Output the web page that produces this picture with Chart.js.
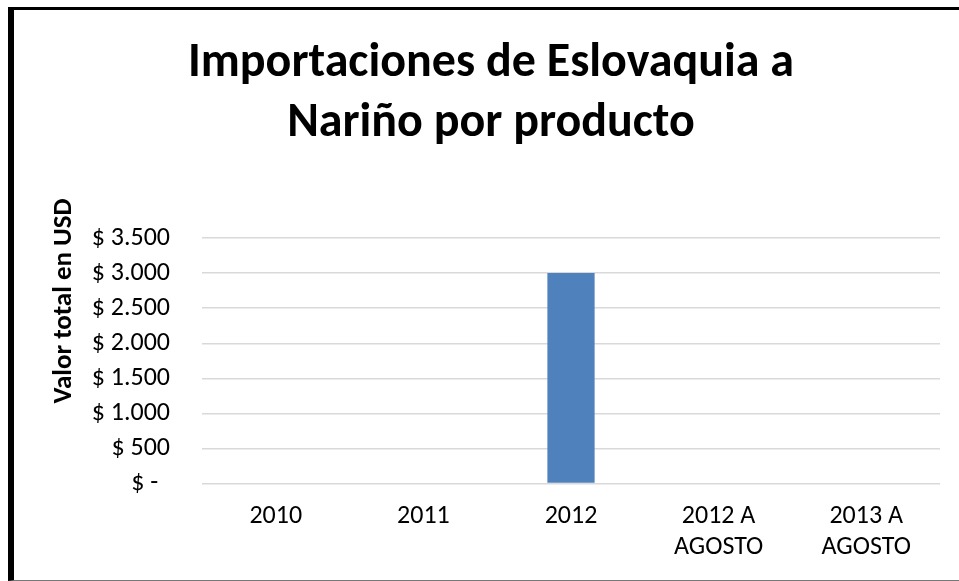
<!DOCTYPE html>
<html>
<head>
<meta charset="utf-8">
<script src="https://cdn.jsdelivr.net/npm/chart.js@4"></script>
<style>
  body { margin: 0; background: #fff; }
  #frame {
    position: absolute; left: 8px; top: 7px; width: 951px; height: 574px;
    box-sizing: border-box;
    border-top: 3px solid #000; border-left: 6px solid #000; border-bottom: 1px solid #777;
  }
  #frame canvas { display: block; }
</style>
</head>
<body>
<div id="frame"><canvas id="importaciones"></canvas></div>
<script>
const categorias = [['2010'], ['2011'], ['2012'], ['2012 A', 'AGOSTO'], ['2013 A', 'AGOSTO']];
const valores = [0, 0, 3000, 0, 0];
const ticksY = [0, 500, 1000, 1500, 2000, 2500, 3000, 3500];

const fuente = 'Carlito, "Open Sans", sans-serif';

function pesos(v) {
    if (v === 0) return '$ -  ';
    return '$ ' + v.toLocaleString('de-DE');
}

// the y title sits a bit above the middle of the plot in the original
const tituloY = {
    id: 'tituloY',
    afterDraw(chart) {
        const c = chart.ctx;
        c.save();
        c.translate(50, 291);
        c.rotate(-Math.PI / 2);
        c.font = 'bold 27px ' + fuente;
        c.fillStyle = '#000';
        c.textAlign = 'center';
        c.textBaseline = 'middle';
        c.fillText('Valor total en USD', 0, 0);
        c.restore();
    }
};

const canvas = document.getElementById('importaciones');
canvas.width = 945;
canvas.height = 570;

new Chart(canvas.getContext('2d'), {
    type: 'bar',
    data: {
        labels: categorias,
        datasets: [{
            label: 'Valor total en USD',
            data: valores,
            backgroundColor: '#4f81bd',
            barPercentage: 0.64,
            categoryPercentage: 0.5
        }]
    },
    options: {
        responsive: false,
        animation: false,
        layout: { padding: { left: 28, right: 19, top: 0, bottom: 0 } },
        scales: {
            y: {
                min: 0,
                max: 3500,
                afterBuildTicks: (axis) => { axis.ticks = ticksY.map(v => ({ value: v })); },
                afterFit: (axis) => { axis.width = 160; },
                ticks: {
                    callback: (v) => pesos(v),
                    color: '#000',
                    padding: 32,
                    font: { family: fuente, size: 26 }
                },
                grid: { color: '#d9d9d9', lineWidth: 1.5, drawTicks: false },
                border: { display: false }
            },
            x: {
                ticks: {
                    color: '#000',
                    padding: 17,
                    maxRotation: 0,
                    font: { family: fuente, size: 26, lineHeight: 1.2 }
                },
                grid: { display: false, drawTicks: false },
                border: { display: false }
            }
        },
        plugins: {
            legend: { display: false },
            tooltip: { enabled: false },
            title: {
                display: true,
                text: ['Importaciones de Eslovaquia a', 'Nariño por producto'],
                color: '#000',
                font: { family: fuente, size: 48, weight: 'bold', lineHeight: 1.25 },
                padding: { top: 24, bottom: 84 }
            }
        }
    },
    plugins: [tituloY]
});
</script>
</body>
</html>
